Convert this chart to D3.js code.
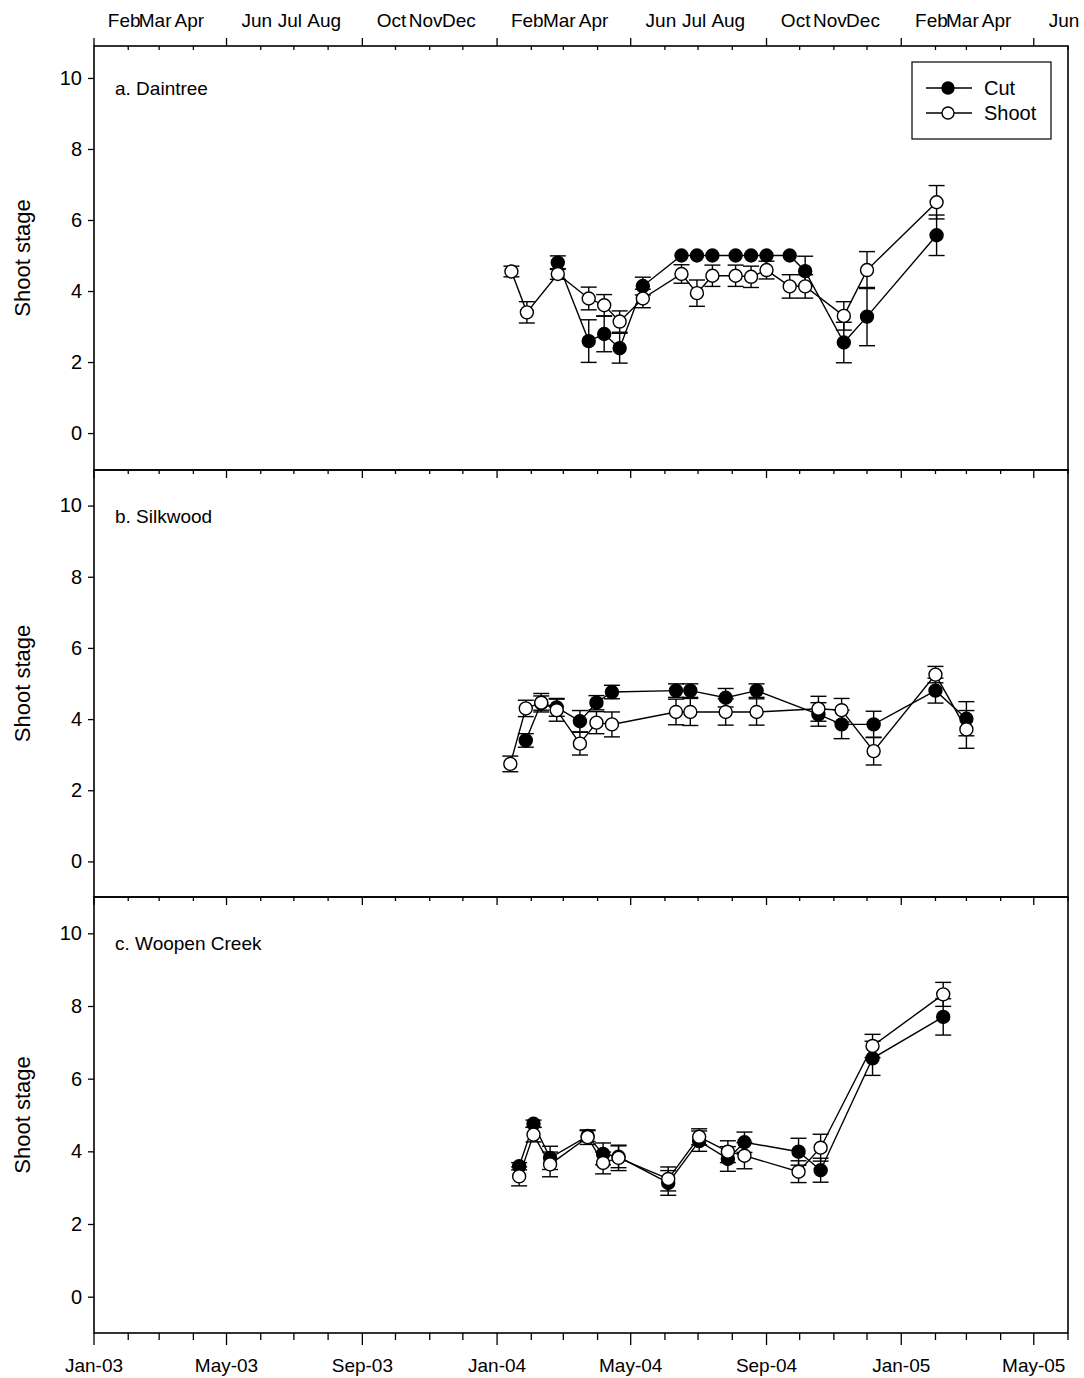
<!DOCTYPE html>
<html><head><meta charset="utf-8">
<script src="https://cdn.jsdelivr.net/npm/d3@7"></script>
<style>
html,body{margin:0;padding:0;background:#fff;}
text{font-family:"Liberation Sans",Arial,sans-serif;fill:#000;}
</style></head>
<body><svg id="c" width="1084" height="1378"></svg>
<script>
// ---------- DATA ----------
const panelNames = ["a. Daintree", "b. Silkwood", "c. Woopen Creek"];
const seriesNames = ["Cut", "Shoot"];

// a. Daintree
const aShootDates = ["2004-01-14","2004-01-28","2004-02-25","2004-03-24","2004-04-07","2004-04-21","2004-05-12","2004-06-16","2004-06-30","2004-07-14","2004-08-04","2004-08-18","2004-09-01","2004-09-22","2004-10-06","2004-11-10","2004-12-01","2005-02-02"];
const aShoot      = [4.55,3.40,4.48,3.79,3.60,3.14,3.79,4.48,3.94,4.43,4.43,4.40,4.59,4.13,4.13,3.30,4.59,6.50];
const aShootErr   = [0.15,0.30,0.15,0.32,0.30,0.30,0.26,0.26,0.37,0.30,0.30,0.30,0.25,0.33,0.33,0.40,0.52,0.47];
const aCutDates   = ["2004-02-25","2004-03-24","2004-04-07","2004-04-21","2004-05-12","2004-06-16","2004-06-30","2004-07-14","2004-08-04","2004-08-18","2004-09-01","2004-09-22","2004-10-06","2004-11-10","2004-12-01","2005-02-02"];
const aCut        = [4.80,2.59,2.79,2.39,4.14,5.00,5.00,5.00,5.00,5.00,5.00,5.00,4.56,2.55,3.28,5.57];
const aCutErr     = [0.19,0.60,0.50,0.42,0.25,0,0,0,0,0,0,0,0.42,0.57,0.82,0.57];

// b. Silkwood
const bShootDates = ["2004-01-13","2004-01-27","2004-02-10","2004-02-24","2004-03-16","2004-03-31","2004-04-14","2004-06-11","2004-06-24","2004-07-26","2004-08-23","2004-10-18","2004-11-08","2004-12-07","2005-02-01","2005-03-01"];
const bShoot      = [2.74,4.30,4.46,4.25,3.31,3.90,3.85,4.20,4.20,4.20,4.20,4.29,4.25,3.10,5.25,3.71];
const bShootErr   = [0.22,0.23,0.26,0.31,0.32,0.31,0.35,0.36,0.38,0.37,0.37,0.35,0.33,0.39,0.23,0.53];
const bCutDates   = ["2004-01-27","2004-02-10","2004-02-24","2004-03-16","2004-03-31","2004-04-14","2004-06-11","2004-06-24","2004-07-26","2004-08-23","2004-10-18","2004-11-08","2004-12-07","2005-02-01","2005-03-01"];
const bCut        = [3.40,4.45,4.33,3.94,4.46,4.76,4.80,4.80,4.60,4.80,4.13,3.85,3.85,4.80,4.01];
const bCutErr     = [0.19,0.20,0.25,0.30,0.20,0.19,0.19,0.19,0.26,0.19,0.33,0.40,0.37,0.35,0.48];

// c. Woopen Creek
const cDates      = ["2004-01-21","2004-02-03","2004-02-18","2004-03-23","2004-04-06","2004-04-20","2004-06-04","2004-07-02","2004-07-28","2004-08-12","2004-09-30","2004-10-20","2004-12-06","2005-02-08"];
const cCut        = [3.59,4.76,3.82,4.42,3.93,3.85,3.13,4.28,3.79,4.25,3.99,3.48,6.56,7.70];
const cCutErr     = [0.10,0.10,0.32,0.15,0.30,0.30,0.34,0.28,0.34,0.28,0.37,0.33,0.47,0.50];
const cShoot      = [3.31,4.46,3.64,4.39,3.68,3.82,3.24,4.40,3.99,3.88,3.44,4.10,6.90,8.32];
const cShootErr   = [0.26,0.20,0.34,0.20,0.30,0.35,0.33,0.22,0.30,0.36,0.30,0.37,0.32,0.33];

// axis ticks / labels
const yTickValues = [0,2,4,6,8,10];
const bottomTickDates  = ["2003-01-01","2003-05-01","2003-09-01","2004-01-01","2004-05-01","2004-09-01","2005-01-01","2005-05-01"];
const bottomTickLabels = ["Jan-03","May-03","Sep-03","Jan-04","May-04","Sep-04","Jan-05","May-05"];
const topTickDates  = ["2003-02-01","2003-03-01","2003-04-01","2003-06-01","2003-07-01","2003-08-01","2003-10-01","2003-11-01","2003-12-01","2004-02-01","2004-03-01","2004-04-01","2004-06-01","2004-07-01","2004-08-01","2004-10-01","2004-11-01","2004-12-01","2005-02-01","2005-03-01","2005-04-01","2005-06-01"];
const topTickLabels = ["Feb","Mar","Apr","Jun","Jul","Aug","Oct","Nov","Dec","Feb","Mar","Apr","Jun","Jul","Aug","Oct","Nov","Dec","Feb","Mar","Apr","Jun"];
const xDomain = ["2003-01-01","2005-06-01"];

// ---------- DRAW ----------
const P = d3.timeParse("%Y-%m-%d");
const svg = d3.select("#c");
const left = 94, right = 1068;
const x = d3.scaleTime().domain(xDomain.map(P)).range([left, right]);

const panels = [
  {name: panelNames[0], top: 46, bottom: 470, dom: [-1.04, 10.9],
   cut: {d: aCutDates, v: aCut, e: aCutErr}, shoot: {d: aShootDates, v: aShoot, e: aShootErr}, legend: true},
  {name: panelNames[1], top: 470, bottom: 897, dom: [-1, 11],
   cut: {d: bCutDates, v: bCut, e: bCutErr}, shoot: {d: bShootDates, v: bShoot, e: bShootErr}},
  {name: panelNames[2], top: 897, bottom: 1333, dom: [-1, 11],
   cut: {d: cDates, v: cCut, e: cCutErr}, shoot: {d: cDates, v: cShoot, e: cShootErr}}
];

const allMonths = d3.timeMonth.range(P(xDomain[0]), d3.timeDay.offset(P(xDomain[1]), 1));
const isMajor = d => [0,4,8].includes(d.getMonth());
const R = 6.5, cap = 8;

panels.forEach((p, i) => {
  const y = d3.scaleLinear().domain(p.dom).range([p.bottom, p.top]);
  const g = svg.append("g");

  // y axis
  const ya = g.append("g").attr("transform", `translate(${left},0)`)
    .call(d3.axisLeft(y).tickValues(yTickValues).tickSize(6).tickPadding(6).tickFormat(d3.format("d")));
  ya.select(".domain").remove();
  ya.selectAll("line").attr("stroke", "#000").attr("stroke-width", 1.3);
  ya.selectAll("text").attr("font-size", 20).attr("font-family", "Liberation Sans, Arial, sans-serif");

  // bottom axis ticks
  g.append("g").selectAll("line").data(allMonths).join("line")
    .attr("x1", d => x(d)).attr("x2", d => x(d))
    .attr("y1", p.bottom).attr("y2", d => p.bottom + (i === 2 ? (isMajor(d) ? 12 : 7) : (isMajor(d) ? 8 : 4)))
    .attr("stroke", "#000").attr("stroke-width", 1.3);

  // frame
  g.append("rect").attr("x", left).attr("y", p.top).attr("width", right - left).attr("height", p.bottom - p.top)
    .attr("fill", "none").attr("stroke", "#000").attr("stroke-width", 1.6);

  // y label
  g.append("text").attr("transform", `translate(30,${(p.top + p.bottom) / 2}) rotate(-90)`)
    .attr("text-anchor", "middle").attr("font-size", 22).text("Shoot stage");

  // panel label
  g.append("text").attr("x", 115).attr("y", y(10) + 17).attr("font-size", 19).text(p.name);

  // series
  const drawSeries = (s, fill) => {
    const pts = s.d.map((d, k) => ({x: x(P(d)), v: s.v[k], e: s.e[k]}));
    g.append("path").datum(pts)
      .attr("d", d3.line().x(d => d.x).y(d => y(d.v)))
      .attr("fill", "none").attr("stroke", "#000").attr("stroke-width", 1.4);
    const eb = g.append("g").selectAll("g").data(pts.filter(d => d.e > 0)).join("g").attr("stroke", "#000").attr("stroke-width", 1.4);
    eb.append("line").attr("x1", d => d.x).attr("x2", d => d.x).attr("y1", d => y(d.v - d.e)).attr("y2", d => y(d.v + d.e));
    eb.append("line").attr("x1", d => d.x - cap).attr("x2", d => d.x + cap).attr("y1", d => y(d.v + d.e)).attr("y2", d => y(d.v + d.e));
    eb.append("line").attr("x1", d => d.x - cap).attr("x2", d => d.x + cap).attr("y1", d => y(d.v - d.e)).attr("y2", d => y(d.v - d.e));
    g.append("g").selectAll("circle").data(pts).join("circle")
      .attr("cx", d => d.x).attr("cy", d => y(d.v)).attr("r", R)
      .attr("fill", fill).attr("stroke", "#000").attr("stroke-width", 1.4);
  };
  drawSeries(p.cut, "#000");
  drawSeries(p.shoot, "#fff");

  if (p.legend) {
    const lg = g.append("g");
    lg.append("rect").attr("x", 912).attr("y", 62).attr("width", 139).attr("height", 77)
      .attr("fill", "#fff").attr("stroke", "#000").attr("stroke-width", 1.2);
    seriesNames.forEach((n, k) => {
      const yy = 88 + k * 25;
      lg.append("line").attr("x1", 926).attr("x2", 972).attr("y1", yy).attr("y2", yy).attr("stroke", "#000").attr("stroke-width", 1.4);
      lg.append("circle").attr("cx", 948).attr("cy", yy).attr("r", 6).attr("fill", k === 0 ? "#000" : "#fff").attr("stroke", "#000").attr("stroke-width", 1.4);
      lg.append("text").attr("x", 984).attr("y", yy + 7).attr("font-size", 20).text(n);
    });
  }
});

// top axis (panel a)
const top0 = panels[0].top;
svg.append("g").selectAll("line").data(allMonths).join("line")
  .attr("x1", d => x(d)).attr("x2", d => x(d))
  .attr("y1", top0).attr("y2", d => isMajor(d) ? top0 - 8 : top0 + 4)
  .attr("stroke", "#000").attr("stroke-width", 1.3);
svg.append("g").selectAll("text").data(topTickDates).join("text")
  .attr("x", d => x(P(d)) - 4).attr("y", 27).attr("text-anchor", "middle").attr("font-size", 19)
  .text((d, k) => topTickLabels[k]);

// bottom tick labels
svg.append("g").selectAll("text").data(bottomTickDates).join("text")
  .attr("x", d => x(P(d))).attr("y", 1372).attr("text-anchor", "middle").attr("font-size", 19)
  .text((d, k) => bottomTickLabels[k]);
</script></body></html>
